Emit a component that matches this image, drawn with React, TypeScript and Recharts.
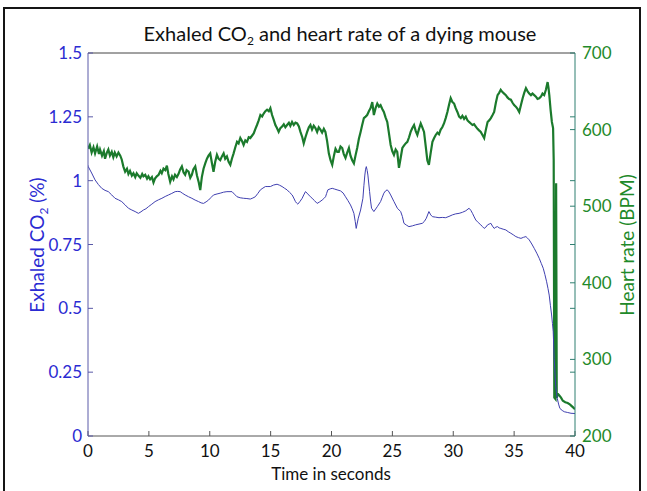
import React from 'react';
import { ComposedChart, Line, XAxis, YAxis } from 'recharts';

const timeTicks = [0, 5, 10, 15, 20, 25, 30, 35, 40];
const co2Ticks = [0, 0.25, 0.5, 0.75, 1, 1.25, 1.5];
const hrTicks = [200, 300, 400, 500, 600, 700];

const co2Time = [
  0.0, 0.02, 0.3, 0.58, 0.85, 1.13, 1.4, 1.67, 1.95, 2.22, 2.5, 2.77, 3.05, 3.32, 3.6, 3.87, 4.14, 4.35, 4.55, 4.76,
  4.96, 5.24, 5.51, 5.79, 6.07, 6.34, 6.61, 6.88, 7.16, 7.37, 7.57, 7.78, 7.98, 8.26, 8.53, 8.8, 9.08, 9.29, 9.49, 9.7,
  9.9, 10.1, 10.31, 10.6, 10.86, 11.14, 11.41, 11.83, 12.03, 12.24, 12.5, 12.78, 13.05, 13.33, 13.54, 13.74, 13.95, 14.16, 14.37, 14.57,
  14.78, 14.98, 15.25, 15.53, 15.74, 15.94, 16.15, 16.35, 16.56, 16.77, 16.9, 17.04, 17.14, 17.23, 17.4, 17.59, 17.72, 17.86, 18.0, 18.13,
  18.27, 18.41, 18.6, 18.82, 19.03, 19.23, 19.37, 19.51, 19.6, 19.7, 19.9, 20.06, 20.26, 20.46, 20.74, 20.95, 21.15, 21.35, 21.56, 21.7,
  21.84, 21.95, 22.03, 22.1, 22.2, 22.39, 22.58, 22.66, 22.74, 22.8, 22.86, 22.93, 22.99, 23.13, 23.21, 23.29, 23.48, 23.76, 24.03, 24.17,
  24.3, 24.44, 24.58, 24.72, 24.86, 25.13, 25.41, 25.68, 25.82, 25.95, 26.15, 26.36, 26.64, 26.91, 27.19, 27.46, 27.62, 27.79, 28.0, 28.15,
  28.29, 28.56, 28.83, 29.1, 29.38, 29.65, 29.93, 30.2, 30.48, 30.75, 31.03, 31.3, 31.44, 31.58, 31.72, 31.85, 32.05, 32.26, 32.4, 32.54,
  32.68, 32.82, 32.95, 33.09, 33.22, 33.36, 33.5, 33.64, 33.77, 33.91, 34.1, 34.32, 34.52, 34.73, 34.93, 35.14, 35.35, 35.56, 35.76, 35.97,
  36.1, 36.24, 36.45, 36.65, 36.86, 37.06, 37.23, 37.39, 37.53, 37.67, 37.78, 37.88, 37.98, 38.08, 38.15, 38.21, 38.29, 38.35, 38.41, 38.48,
  38.54, 38.65, 38.76, 38.95, 39.12, 39.4, 39.67, 40.0,
];
const co2Values = [
  1.06, 1.055, 1.03, 1.003, 0.985, 0.97, 0.962, 0.957, 0.944, 0.931, 0.925, 0.918, 0.905, 0.892, 0.885, 0.879, 0.872, 0.878, 0.885, 0.89,
  0.898, 0.908, 0.918, 0.925, 0.931, 0.938, 0.944, 0.95, 0.957, 0.958, 0.957, 0.95, 0.944, 0.937, 0.931, 0.924, 0.918, 0.913, 0.911, 0.917,
  0.924, 0.934, 0.944, 0.948, 0.951, 0.955, 0.957, 0.957, 0.947, 0.937, 0.933, 0.931, 0.93, 0.928, 0.932, 0.937, 0.95, 0.964, 0.971, 0.977,
  0.977, 0.977, 0.983, 0.986, 0.982, 0.977, 0.97, 0.964, 0.954, 0.944, 0.932, 0.918, 0.912, 0.908, 0.918, 0.931, 0.944, 0.957, 0.951, 0.944,
  0.937, 0.931, 0.922, 0.911, 0.917, 0.924, 0.93, 0.937, 0.95, 0.964, 0.968, 0.97, 0.967, 0.964, 0.96, 0.952, 0.937, 0.922, 0.905, 0.89,
  0.872, 0.84, 0.813, 0.83, 0.853, 0.885, 0.931, 0.98, 1.022, 1.045, 1.055, 1.04, 1.022, 0.957, 0.92, 0.892, 0.879, 0.898, 0.918, 0.935,
  0.951, 0.96, 0.964, 0.956, 0.944, 0.918, 0.892, 0.879, 0.86, 0.833, 0.826, 0.82, 0.823, 0.827, 0.83, 0.833, 0.84, 0.853, 0.879, 0.866,
  0.859, 0.857, 0.855, 0.856, 0.855, 0.86, 0.866, 0.87, 0.872, 0.876, 0.882, 0.892, 0.884, 0.872, 0.858, 0.846, 0.836, 0.827, 0.82, 0.813,
  0.818, 0.827, 0.83, 0.833, 0.822, 0.813, 0.818, 0.82, 0.815, 0.813, 0.81, 0.807, 0.8, 0.794, 0.788, 0.781, 0.777, 0.774, 0.778, 0.781,
  0.775, 0.768, 0.752, 0.735, 0.716, 0.696, 0.676, 0.657, 0.632, 0.604, 0.578, 0.552, 0.512, 0.474, 0.44, 0.409, 0.304, 0.25, 0.2, 0.17,
  0.148, 0.125, 0.108, 0.1, 0.095, 0.092, 0.089, 0.088,
];

const hrTime = [
  0.0, 0.15, 0.3, 0.45, 0.58, 0.75, 0.9, 0.99, 1.15, 1.3, 1.4, 1.55, 1.67, 1.8, 1.95, 2.08, 2.2, 2.35, 2.5, 2.65,
  2.77, 2.9, 3.05, 3.2, 3.32, 3.45, 3.6, 3.73, 3.88, 4.0, 4.14, 4.3, 4.45, 4.55, 4.7, 4.85, 4.96, 5.1, 5.25, 5.38,
  5.5, 5.65, 5.8, 5.95, 6.06, 6.2, 6.35, 6.48, 6.6, 6.75, 6.9, 7.02, 7.15, 7.3, 7.43, 7.57, 7.71, 7.85, 7.98, 8.1,
  8.26, 8.4, 8.53, 8.65, 8.81, 8.95, 9.1, 9.22, 9.35, 9.49, 9.63, 9.77, 9.9, 10.04, 10.17, 10.31, 10.45, 10.59, 10.72, 10.86,
  11.0, 11.14, 11.27, 11.41, 11.55, 11.69, 11.82, 11.96, 12.1, 12.24, 12.37, 12.51, 12.65, 12.78, 12.92, 13.06, 13.2, 13.33, 13.47, 13.61,
  13.75, 13.88, 14.02, 14.16, 14.3, 14.43, 14.57, 14.71, 14.85, 14.98, 15.12, 15.25, 15.39, 15.52, 15.66, 15.8, 15.94, 16.08, 16.21, 16.35,
  16.5, 16.62, 16.76, 16.9, 17.04, 17.18, 17.32, 17.45, 17.6, 17.72, 17.86, 18.0, 18.14, 18.27, 18.4, 18.54, 18.68, 18.82, 18.95, 19.09,
  19.23, 19.37, 19.5, 19.64, 19.78, 19.92, 20.06, 20.2, 20.33, 20.47, 20.6, 20.74, 20.88, 21.01, 21.15, 21.29, 21.43, 21.56, 21.7, 21.84,
  21.97, 22.11, 22.25, 22.39, 22.52, 22.66, 22.8, 22.93, 23.07, 23.21, 23.35, 23.48, 23.62, 23.76, 23.9, 24.03, 24.17, 24.3, 24.44, 24.58,
  24.72, 24.86, 24.99, 25.13, 25.27, 25.4, 25.54, 25.68, 25.82, 25.95, 26.09, 26.23, 26.37, 26.5, 26.64, 26.78, 26.92, 27.05, 27.19, 27.33,
  27.46, 27.6, 27.74, 27.87, 28.0, 28.15, 28.29, 28.43, 28.56, 28.7, 28.83, 28.97, 29.1, 29.24, 29.38, 29.52, 29.65, 29.79, 29.93, 30.07,
  30.2, 30.34, 30.48, 30.62, 30.75, 30.89, 31.03, 31.17, 31.3, 31.44, 31.58, 31.71, 31.85, 31.99, 32.12, 32.26, 32.4, 32.54, 32.68, 32.82,
  32.95, 33.09, 33.23, 33.36, 33.5, 33.64, 33.77, 33.9, 34.04, 34.18, 34.32, 34.45, 34.59, 34.73, 34.87, 35.0, 35.14, 35.28, 35.42, 35.56,
  35.7, 35.83, 35.97, 36.11, 36.24, 36.38, 36.51, 36.65, 36.79, 36.92, 37.06, 37.2, 37.33, 37.47, 37.61, 37.75, 37.82, 37.89, 38.0, 38.1,
  38.2, 38.25, 38.28, 38.3, 38.4, 38.45, 38.5, 38.6, 38.71, 38.85, 39.0, 39.2, 39.4, 39.6, 39.8, 40.0,
];
const hrValues = [
  575, 580, 570, 577, 569, 578, 568, 574, 566, 572, 562, 570, 574, 566, 571, 564, 570, 565, 570, 566,
  561, 552, 545, 549, 542, 546, 540, 543, 538, 543, 540, 537, 542, 539, 541, 536, 539, 535, 538, 531,
  536, 539, 541, 546, 543, 549, 547, 553, 542, 532, 539, 535, 541, 538, 542, 548, 552, 544, 541, 547,
  545, 537, 541, 548, 552, 540, 531, 521, 538, 549, 556, 562, 566, 569, 557, 545, 558, 567, 562, 560,
  565, 569, 562, 565, 558, 554, 562, 569, 577, 584, 582, 589, 585, 580, 586, 584, 590, 589, 592, 595,
  601, 606, 612, 619, 617, 621, 624, 626, 624, 628, 619, 613, 606, 602, 597, 602, 604, 607, 603, 606,
  609, 605, 610, 606, 609, 608, 604, 597, 590, 582, 590, 597, 603, 606, 600, 605, 602, 597, 603, 600,
  596, 601, 597, 585, 569, 560, 554, 566, 575, 571, 571, 578, 576, 568, 563, 570, 576, 566, 560, 556,
  566, 576, 588, 597, 606, 615, 617, 619, 624, 628, 636, 619, 628, 634, 630, 632, 627, 623, 616, 610,
  595, 580, 572, 567, 574, 571, 550, 563, 576, 579, 582, 584, 590, 597, 602, 606, 598, 593, 601, 608,
  603, 597, 578, 560, 554, 570, 584, 589, 593, 596, 594, 600, 603, 608, 615, 623, 632, 641, 636, 634,
  628, 623, 617, 615, 618, 614, 617, 612, 610, 608, 606, 607, 604, 601, 599, 597, 593, 589, 600, 610,
  612, 615, 619, 623, 635, 645, 648, 652, 649, 647, 645, 642, 640, 639, 635, 632, 630, 627, 623, 632,
  641, 648, 654, 650, 647, 645, 647, 645, 643, 640, 641, 643, 647, 645, 652, 662, 655, 645, 625, 610,
  602, 560, 380, 250, 248, 530, 250, 255, 253, 250, 246, 244, 243, 241, 238, 235,
];

const co2Data = co2Time.map((t, i) => ({ t, v: co2Values[i] }));
const hrData = hrTime.map((t, i) => ({ t, v: hrValues[i] }));

// CO2 tick positions mirrored onto the right (heart-rate) axis
const hrMirrorTicks = co2Ticks.map((c) => 200 + (c / 1.5) * 500);
const rightTicks = Array.from(new Set([...hrTicks, ...hrMirrorTicks.map((v) => Math.round(v * 1000) / 1000)])).sort((a, b) => a - b);

const BLUE = '#2b2bd2';
const GREEN = '#1f8a2a';
const FONT = 'Lato, "Open Sans", sans-serif';

export default function App() {
  return (
    <div style={{ position: 'absolute', left: 0, top: 0, width: 647, height: 491, overflow: 'hidden', background: '#fff', fontFamily: FONT }}>
      <div style={{ position: 'absolute', left: 3, top: 7, width: 634, height: 500, border: '2px solid #151515' }} />
      <div style={{ position: 'absolute', left: 0, top: 0 }}>
        <ComposedChart width={647} height={491} margin={{ top: 52, right: 0, bottom: 0, left: 0 }}>
          <XAxis
            xAxisId="b"
            dataKey="t"
            type="number"
            domain={[0, 40]}
            allowDataOverflow
            ticks={timeTicks}
            height={55}
            tickSize={-5}
            tickMargin={14}
            axisLine={{ stroke: '#555' }}
            tickLine={{ stroke: '#555' }}
            tick={{ fill: '#111', fontSize: 17, fontFamily: FONT }}
            interval={0}
          />
          <XAxis
            xAxisId="top"
            orientation="top"
            type="number"
            domain={[0, 40]}
            allowDataOverflow
            ticks={timeTicks}
            height={1}
            tickSize={-5}
            tick={false}
            axisLine={{ stroke: '#444' }}
            tickLine={{ stroke: '#444' }}
            interval={0}
          />
          <YAxis
            yAxisId="co2"
            orientation="left"
            type="number"
            domain={[0, 1.5]}
            allowDataOverflow
            ticks={co2Ticks}
            width={88}
            tickSize={-5}
            tickMargin={11}
            axisLine={{ stroke: '#5a5aa8' }}
            tickLine={{ stroke: '#5a5aa8' }}
            tick={{ fill: BLUE, fontSize: 17, fontFamily: FONT }}
            tickFormatter={(v: number) => String(v)}
            interval={0}
          />
          <YAxis
            yAxisId="hr"
            orientation="right"
            type="number"
            domain={[200, 700]}
            allowDataOverflow
            ticks={rightTicks}
            width={72}
            tickSize={-5}
            tickMargin={12}
            axisLine={{ stroke: '#2f7f70' }}
            tickLine={{ stroke: '#2f7f70' }}
            tick={{ fill: GREEN, fontSize: 17, fontFamily: FONT }}
            tickFormatter={(v: number) => (hrTicks.includes(v) ? String(v) : '')}
            interval={0}
          />
          <Line
            xAxisId="b"
            yAxisId="hr"
            data={hrData}
            dataKey="v"
            type="linear"
            stroke="#1b7a2c"
            strokeWidth={2.2}
            dot={false}
            isAnimationActive={false}
          />
          <Line
            xAxisId="b"
            yAxisId="co2"
            data={co2Data}
            dataKey="v"
            type="linear"
            stroke="#4040b0"
            strokeWidth={1}
            dot={false}
            isAnimationActive={false}
          />
        </ComposedChart>
      </div>
      <div style={{ position: 'absolute', left: 0, width: 680, top: 22, textAlign: 'center', fontSize: 20, lineHeight: '22px', color: '#111', whiteSpace: 'nowrap' }}>
        Exhaled CO<sub style={{ fontSize: 12, verticalAlign: -4, lineHeight: 0 }}>2</sub> and heart rate of a dying mouse
      </div>
      <div style={{ position: 'absolute', left: 331, top: 473, transform: 'translate(-50%, -50%)', fontSize: 17, lineHeight: '17px', color: '#111', whiteSpace: 'nowrap' }}>
        Time in seconds
      </div>
      <div style={{ position: 'absolute', left: 36, top: 245, transform: 'translate(-50%, -50%) rotate(-90deg)', fontSize: 19, color: BLUE, whiteSpace: 'nowrap' }}>
        Exhaled CO<sub style={{ fontSize: 12, verticalAlign: -4, lineHeight: 0 }}>2</sub> (%)
      </div>
      <div style={{ position: 'absolute', left: 626, top: 245, transform: 'translate(-50%, -50%) rotate(-90deg)', fontSize: 19, color: GREEN, whiteSpace: 'nowrap' }}>
        Heart rate (BPM)
      </div>
    </div>
  );
}
